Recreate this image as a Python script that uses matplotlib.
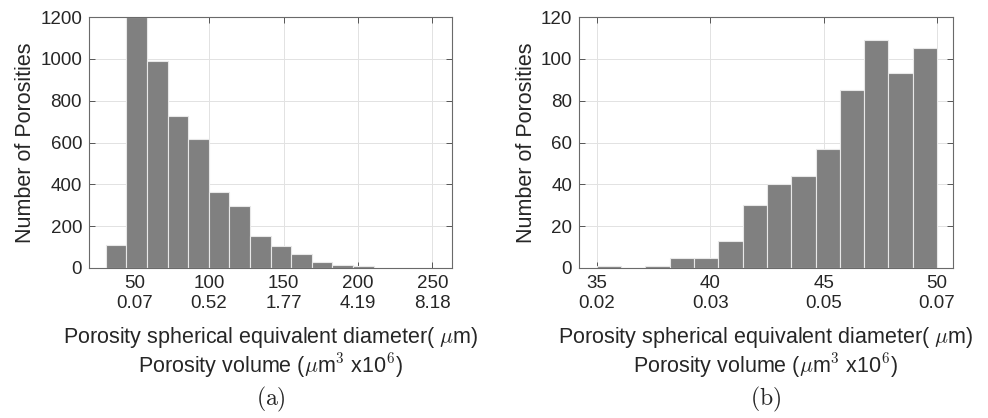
import numpy as np
import matplotlib.pyplot as plt

plt.rcParams['font.family'] = ['Liberation Sans', 'DejaVu Sans']
plt.rcParams['mathtext.fontset'] = 'cm'

# (a) diameter histogram, all porosities
edges_a = np.linspace(30.5, 210.6, 14)
counts_a = [108, 1200, 991, 725, 617, 365, 296, 153, 107, 67, 29, 13, 10]
ticks_a = [50, 100, 150, 200, 250]
vol_a = ['0.07', '0.52', '1.77', '4.19', '8.18']

# (b) diameter histogram, 35-50 um range
edges_b = np.linspace(35, 50, 15)
counts_b = [1, 0, 1, 5, 5, 13, 30, 40, 44, 57, 85, 109, 93, 105]
ticks_b = [35, 40, 45, 50]
vol_b = ['0.02', '0.03', '0.05', '0.07']

W, H = 988, 418
fig = plt.figure(figsize=(W / 100, H / 100), dpi=100)

def px_axes(l, t, r, b):
    return fig.add_axes([l / W, 1 - b / H, (r - l) / W, (b - t) / H])

def style(ax, ticks, vols, xlim, ylim, ystep):
    ax.set_xlim(xlim)
    ax.set_ylim(0, ylim)
    ax.set_xticks(ticks)
    ax.set_xticklabels([f'{t}\n{v}' for t, v in zip(ticks, vols)], linespacing=1.25)
    ax.set_yticks(np.arange(0, ylim + 1, ystep))
    ax.set_axisbelow(True)
    ax.grid(True, color='#e2e2e2', linewidth=0.7)
    ax.tick_params(direction='in', length=4, width=0.7, top=True, right=True,
                   labelsize=13.5, colors='#555555', labelcolor='#262626', pad=5)
    for s in ax.spines.values():
        s.set_color('#6a6a6a')
        s.set_linewidth(0.8)
    ax.set_ylabel('Number of Porosities', fontsize=15.5, color='#262626', labelpad=3)

ax1 = px_axes(89, 17, 452, 268)
ax1.bar(edges_a[:-1], counts_a, width=np.diff(edges_a), align='edge',
        color='#808080', edgecolor='#e8e8e8', linewidth=0.8)
style(ax1, ticks_a, vol_a, (19.3, 263.2), 1200, 200)

ax2 = px_axes(579, 17, 953, 268)
ax2.bar(edges_b[:-1], counts_b, width=np.diff(edges_b), align='edge',
        color='#808080', edgecolor='#e8e8e8', linewidth=0.8)
style(ax2, ticks_b, vol_b, (34.22, 50.7), 120, 20)

for cx, tag in [(270.5, '(a)'), (766, '(b)')]:
    fig.text(cx / W, 1 - 338 / H, r'Porosity spherical equivalent diameter( $\mu$m)',
             ha='center', va='center', fontsize=15.5, color='#262626')
    fig.text(cx / W, 1 - 366 / H, r'Porosity volume ($\mu$m$^3$ x10$^6$)',
             ha='center', va='center', fontsize=15.5, color='#262626')
    fig.text(cx / W, 1 - 399 / H, r'$\mathrm{' + tag + '}$',
             ha='center', va='center', fontsize=17, color='#262626')

fig.savefig('out.png', dpi=100)
